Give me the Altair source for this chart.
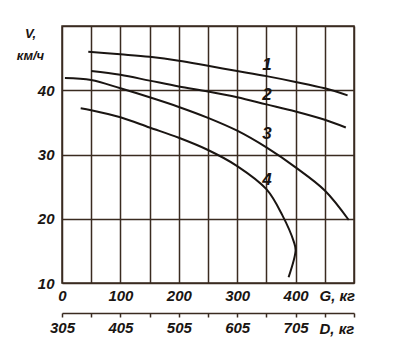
import altair as alt
import pandas as pd

# ---- data ----
g1 = [45, 100, 150, 200, 250, 300, 350, 400, 450, 489]
v1 = [46.0, 45.6, 45.2, 44.6, 43.8, 43.0, 42.2, 41.3, 40.3, 39.2]
g2 = [50, 100, 150, 200, 250, 300, 350, 400, 450, 486]
v2 = [43.0, 42.4, 41.5, 40.6, 39.8, 38.9, 37.8, 36.7, 35.4, 34.2]
g3 = [5, 50, 100, 150, 200, 250, 300, 350, 400, 450, 491]
v3 = [41.9, 41.6, 40.3, 38.9, 37.4, 35.7, 33.7, 31.1, 28.0, 24.4, 19.8]
g4 = [32, 50, 100, 150, 200, 250, 300, 350, 377, 397, 400, 388]
v4 = [37.2, 36.9, 35.8, 34.2, 32.6, 30.7, 28.2, 24.6, 20.6, 16.4, 15.1, 10.9]

curve_names = ["1", "2", "3", "4"]
label_g = [351, 351, 351, 351]
label_v = [43.9, 39.3, 33.2, 26.0]

g_ticks = list(range(0, 501, 50))
d_ticks = list(range(305, 806, 50))
v_ticks = list(range(10, 51, 5))

# ---- tables ----
rows = []
for name, gs, vs in zip(curve_names, [g1, g2, g3, g4], [v1, v2, v3, v4]):
    for i, (g, v) in enumerate(zip(gs, vs)):
        rows.append({"curve": name, "G": g, "V": v, "idx": i})
df = pd.DataFrame(rows)
lab_df = pd.DataFrame({"t": curve_names, "G": label_g, "V": label_v})
d_df = pd.DataFrame({"D": [305, 805]})

FONT = "Liberation Sans"
INK = "#1a1512"
GRID = "#3a2b20"
FS = 15
FW = "bold"

xscale = alt.Scale(domain=[0, 500], nice=False, zero=False)
yscale = alt.Scale(domain=[10, 50], nice=False, zero=False)

lines = alt.Chart(df).mark_line(color=INK, strokeWidth=2, interpolate="catmull-rom").encode(
    x=alt.X("G:Q", scale=xscale, axis=alt.Axis(
        values=g_ticks,
        labelExpr="datum.value % 100 == 0 && datum.value < 500 ? datum.value : ''",
        labelFlush=False, labelOverlap=False,
        ticks=False, domain=False, grid=True,
        gridColor=GRID, gridWidth=1.5, gridOpacity=1,
        labelFont=FONT, labelFontSize=FS, labelFontStyle="italic", labelFontWeight=FW,
        labelColor=INK, labelPadding=5,
        title="G, кг", titleX=257, titleY=12, titleAlign="left", titleBaseline="middle",
        titleFont=FONT, titleFontSize=FS, titleFontStyle="italic", titleFontWeight=FW,
        titleColor=INK,
    )),
    y=alt.Y("V:Q", scale=yscale, axis=alt.Axis(
        values=v_ticks,
        labelExpr="datum.value % 10 == 0 && datum.value < 50 ? datum.value : ''",
        labelFlush=False, labelOverlap=False,
        ticks=False, domain=False, grid=True,
        gridColor=GRID, gridWidth=1.5, gridOpacity=1,
        labelFont=FONT, labelFontSize=FS, labelFontStyle="italic", labelFontWeight=FW,
        labelColor=INK, labelPadding=8,
        title=["V,", "км/ч"], titleAngle=0, titleX=-32, titleY=1,
        titleAlign="center", titleBaseline="top", titleLineHeight=22,
        titleFont=FONT, titleFontSize=13, titleFontStyle="italic", titleFontWeight="bold",
        titleColor=INK,
    )),
    detail="curve:N",
    order="idx:Q",
)

labels = alt.Chart(lab_df).mark_text(
    font=FONT, fontSize=17, fontStyle="italic", fontWeight=FW, color=INK,
    baseline="middle", align="center"
).encode(
    x=alt.X("G:Q", scale=xscale, axis=None),
    y=alt.Y("V:Q"),
    text="t:N",
)

daxis = alt.Chart(d_df).mark_point(opacity=0).encode(
    x=alt.X("D:Q", scale=alt.Scale(domain=[305, 805], nice=False, zero=False), axis=alt.Axis(
        orient="bottom", offset=30,
        values=d_ticks,
        labelExpr="datum.value < 800 && (datum.value - 305) % 100 == 0 ? datum.value : ''",
        labelFlush=False, labelOverlap=False,
        grid=False, domain=True, domainColor=GRID, domainWidth=1.5,
        ticks=True, tickColor=GRID, tickWidth=1.5, tickSize=4,
        labelFont=FONT, labelFontSize=FS, labelFontStyle="italic", labelFontWeight=FW,
        labelColor=INK, labelPadding=3,
        title="D, кг", titleX=257, titleY=15, titleAlign="left", titleBaseline="middle",
        titleFont=FONT, titleFontSize=FS, titleFontStyle="italic", titleFontWeight=FW,
        titleColor=INK,
    )),
)

chart = alt.layer(lines, labels, daxis).resolve_scale(x="independent").properties(
    width=292, height=257,
    autosize=alt.AutoSizeParams(type="none"),
    padding={"left": 54, "top": 18, "right": 38, "bottom": 68},
    background="white",
).configure_view(stroke=GRID, strokeWidth=1.5)

chart.save("out.html", embed_options={"renderer": "svg", "actions": False})
